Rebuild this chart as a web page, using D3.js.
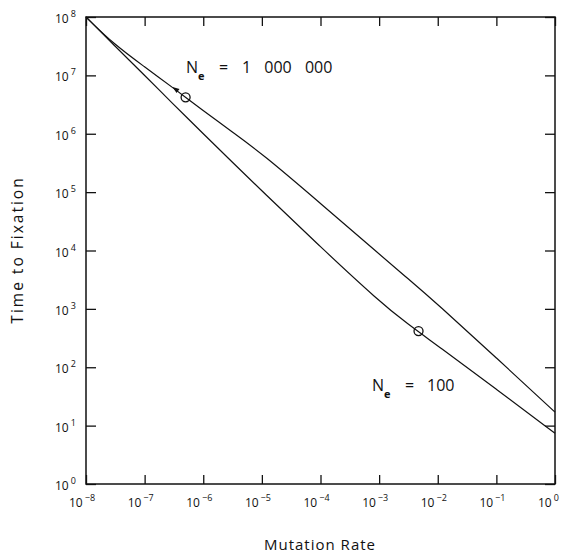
<!DOCTYPE html>
<html>
<head>
<meta charset="utf-8">
<script src="https://cdn.jsdelivr.net/npm/d3@7"></script>
<style>
  body { margin: 0; background: #fff; }
  text { font-family: "Open Sans", "DejaVu Sans", sans-serif; fill: #111; }
</style>
</head>
<body>
<div class="chart"></div>
<script>
// values
var mutationRate = [1e-8, 3e-8, 1e-7, 3e-7, 1e-6, 3e-6, 1e-5, 1e-4, 1e-3, 3e-3, 1e-2, 1e-1, 1];
var timeNe1e6 = [1e8, 3.4e7, 1.4e7, 6.2e6, 2.5e6, 1.1e6, 4.6e5, 6.4e4, 8.7e3, 3.4e3, 1.2e3, 145, 17];
var timeNe100 = [1e8, 3.3e7, 1e7, 3.3e6, 1.0e6, 3.4e5, 1.05e5, 1.15e4, 1.35e3, 560, 234, 42, 7.4];
var markedPoints = [{mu: 5e-7, t: 4.2e6}, {mu: 4.7e-3, t: 417}];
var xTickExp = [-8, -7, -6, -5, -4, -3, -2, -1, 0];
var yTickExp = [0, 1, 2, 3, 4, 5, 6, 7, 8];

var svgWidth = 564;
var svgHeight = 554;
var margin = {top: 17, right: 9, bottom: 70, left: 86};
var width = svgWidth - margin.left - margin.right;
var height = svgHeight - margin.top - margin.bottom;

var svg = d3.select(".chart")
  .append("svg")
  .attr("width", svgWidth)
  .attr("height", svgHeight);

var chartGroup = svg.append("g")
  .attr("transform", `translate(${margin.left}, ${margin.top})`);

var xScale = d3.scaleLog().domain([1e-8, 1]).range([0, width]);
var yScale = d3.scaleLog().domain([1, 1e8]).range([height, 0]);

var xTicks = xTickExp.map(e => Math.pow(10, e));
var yTicks = yTickExp.map(e => Math.pow(10, e));

// inward ticks on all four sides
function styleAxis(g) {
  g.select(".domain").remove();
  g.selectAll("line").attr("stroke", "#111").attr("stroke-width", 1.3);
}
chartGroup.append("g").attr("transform", `translate(0, ${height})`)
  .call(d3.axisBottom(xScale).tickValues(xTicks).tickSize(-9).tickFormat("")).call(styleAxis);
chartGroup.append("g")
  .call(d3.axisTop(xScale).tickValues(xTicks).tickSize(-9).tickFormat("")).call(styleAxis);
chartGroup.append("g")
  .call(d3.axisLeft(yScale).tickValues(yTicks).tickSize(-10).tickFormat("")).call(styleAxis);
chartGroup.append("g").attr("transform", `translate(${width}, 0)`)
  .call(d3.axisRight(yScale).tickValues(yTicks).tickSize(-10).tickFormat("")).call(styleAxis);

chartGroup.append("rect")
  .attr("width", width).attr("height", height)
  .attr("fill", "none").attr("stroke", "#111").attr("stroke-width", 1.5);

// tick labels as 10 with superscript
var xLab = chartGroup.selectAll(".xlab").data(xTickExp).enter()
  .append("text").attr("class", "xlab")
  .attr("x", d => xScale(Math.pow(10, d)) - 17)
  .attr("y", height + 23)
  .style("font-size", "12px");
xLab.append("tspan").text("10");
xLab.append("tspan").attr("dx", 2).attr("dy", -6).style("font-size", "9px")
  .text(d => d < 0 ? "\u2212" + (-d) : d);

var yLab = chartGroup.selectAll(".ylab").data(yTickExp).enter()
  .append("text").attr("class", "ylab")
  .attr("x", -31)
  .attr("y", d => yScale(Math.pow(10, d)) + 6)
  .style("font-size", "12px");
yLab.append("tspan").text("10");
yLab.append("tspan").attr("dx", 2).attr("dy", -6).style("font-size", "9px").text(d => d);

// curves
var line = d3.line()
  .x(d => xScale(d[0]))
  .y(d => yScale(d[1]))
  .curve(d3.curveBasis);

[timeNe1e6, timeNe100].forEach(function(series) {
  chartGroup.append("path")
    .datum(mutationRate.map((m, i) => [m, series[i]]))
    .attr("d", line)
    .attr("fill", "none")
    .attr("stroke", "#111")
    .attr("stroke-width", 1.2);
});

chartGroup.selectAll(".mark").data(markedPoints).enter()
  .append("circle").attr("class", "mark")
  .attr("cx", d => xScale(d.mu))
  .attr("cy", d => yScale(d.t))
  .attr("r", 4.5)
  .attr("fill", "none")
  .attr("stroke", "#111")
  .attr("stroke-width", 1.3);

// small arrowhead on the upper curve
var ax = xScale(3.5e-7), ay = yScale(5.6e6);
chartGroup.append("path")
  .attr("d", `M${ax - 4},${ay - 3} L${ax + 3},${ay - 1} L${ax},${ay + 3} Z`)
  .attr("fill", "#111");

// curve labels
function neLabel(x, y, value, valueX) {
  var t = chartGroup.append("text").attr("x", x).attr("y", y).style("font-size", "16px");
  t.append("tspan").text("N");
  t.append("tspan").attr("dy", 7).style("font-size", "11px").style("font-weight", "bold").text("e");
  t.append("tspan").attr("x", x + 33).attr("dy", -7).text("=");
  t.append("tspan").attr("x", valueX).style("word-spacing", "9px").text(value);
}
neLabel(186 - margin.left, 73 - margin.top, "1 000 000", 242 - margin.left);
neLabel(372 - margin.left, 391 - margin.top, "100", 427 - margin.left);

// axis titles
chartGroup.append("text")
  .attr("transform", `translate(${-margin.left + 23}, ${250 - margin.top}) rotate(-90)`)
  .style("text-anchor", "middle")
  .style("font-size", "15.5px")
  .style("letter-spacing", "2px")
  .text("Time to Fixation");

chartGroup.append("text")
  .attr("x", 320 - margin.left)
  .attr("y", height + 66)
  .style("text-anchor", "middle")
  .style("font-size", "15px")
  .style("letter-spacing", "1px")
  .text("Mutation Rate");
</script>
</body>
</html>
